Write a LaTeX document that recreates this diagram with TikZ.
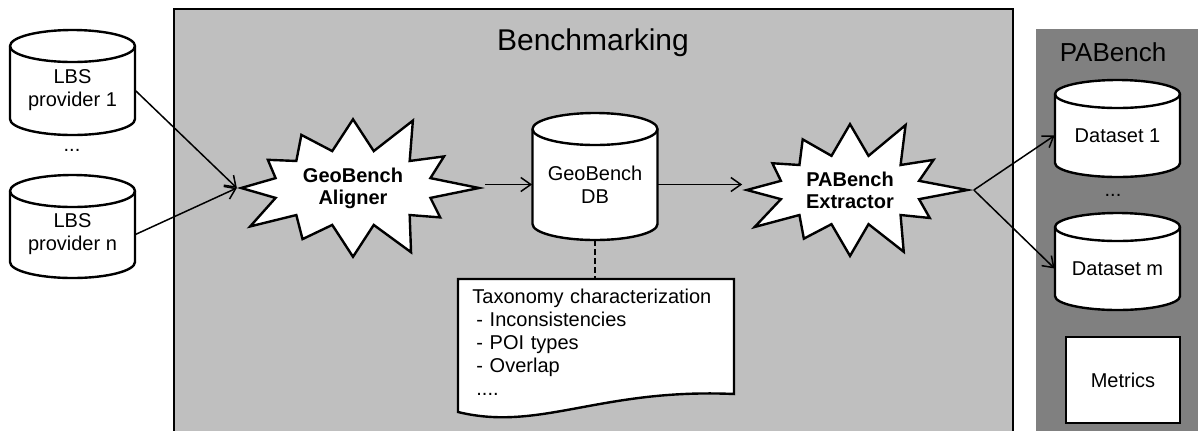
\documentclass[tikz,border=0pt]{standalone}
\usepackage{fontspec}
\setmainfont{Liberation Sans}
\usetikzlibrary{shapes.symbols,arrows.meta}

\tikzset{
  cylline/.style={draw, fill=white, line width=1.2pt},
  cyltext/.style={minimum width=62.5pt, inner sep=0pt, align=center,
    font=\fontsize{10}{11.5}\selectfont},
  burst/.style={starburst, draw, fill=white, line width=1.2pt,
    starburst points=12, random starburst=2, starburst point height=28pt,
    minimum height=58pt, align=center, font=\fontsize{10}{11}\selectfont\bfseries},
  flow/.style={-{Straight Barb[length=5pt,width=7pt]}, line width=0.75pt},
  doctext/.style={align=left, text width=124pt, inner xsep=7pt, inner ysep=5pt,
    font=\fontsize{10}{11.5}\selectfont},
}

% database cylinder: name, centre x, top y, bottom y, ellipse radius, text
\newcommand\cylnode[6]{%
  \draw[cylline] (#2-62.5,#3+#5) -- (#2-62.5,#4-#5)
    arc[start angle=180, end angle=0, x radius=62.5, y radius=#5]
    -- (#2+62.5,#3+#5)
    arc[start angle=0, end angle=-180, x radius=62.5, y radius=#5] -- cycle;
  \draw[cylline, fill=none] (#2-62.5,#3+#5)
    arc[start angle=180, end angle=0, x radius=62.5, y radius=#5];
  \node[cyltext, minimum height={(#4-#3-#5)*0.5pt}] (#1) at (#2,{(#3+#5+#4)/2}) {#6};
}

\begin{document}
\begin{tikzpicture}[x=0.5pt,y=-0.5pt]
\useasboundingbox (0,0) rectangle (1198,430);

% Benchmarking panel
\draw[fill=black!25, line width=1.2pt] (174,440) -- (174,9) -- (1013,9) -- (1013,440);
\node[font=\fontsize{15}{18}\selectfont] (bench) at (593,43) {Benchmarking};

% PABench panel
\fill[black!50] (1036,29) rectangle (1198,440);
\node[font=\fontsize{13}{16}\selectfont] (pabench) at (1113,52) {PABench};

% Data sources
\cylnode{lbs1}{72.5}{30}{135}{16}{LBS\\provider 1}
\node[font=\fontsize{10}{12}\selectfont] (dots1) at (72,150) {...};
\cylnode{lbsn}{72.5}{175}{278}{16}{LBS\\provider n}

% Processing steps
\node[burst, minimum width=130pt] (aligner) at (353,188) {GeoBench\\Aligner};
\cylnode{geodb}{595}{113}{240}{16}{GeoBench\\DB}
\node[burst, minimum width=124pt] (extractor) at (850,190) {PABench\\Extractor};

% Taxonomy document
\draw[fill=white, line width=1.2pt] (458,279) -- (734,279) -- (734,394)
  .. controls (600,388) and (540,432) .. (458,412) -- cycle;
\node[doctext, anchor=north west] (taxo) at (458,279)
  {Taxonomy characterization\\
   \hspace{2pt}- Inconsistencies\\
   \hspace{2pt}- POI types\\
   \hspace{2pt}- Overlap\\
   \hspace{2pt}....};

% Outputs
\cylnode{set1}{1117.5}{80}{177}{14}{Dataset 1}
\node[font=\fontsize{10}{12}\selectfont] (dots2) at (1113,195) {...};
\cylnode{setm}{1117.5}{213}{310}{14}{Dataset m}
\node[draw, fill=white, line width=1.2pt, minimum width=57pt, minimum height=43pt,
  font=\fontsize{10}{12}\selectfont] (metrics) at (1123,380) {Metrics};

% Connectors
\draw[flow] (lbs1.east) -- (aligner.west);
\draw[flow] (lbsn.east) -- (aligner.west);
\draw[flow] (geodb.west -| aligner.east) -- (geodb.west);
\draw[flow] (geodb.east) -- (geodb.east -| extractor.west);
\draw[flow] (extractor.east) -- (set1.west);
\draw[flow] (extractor.east) -- (setm.west);
\draw[dashed, dash pattern=on 3pt off 1.5pt, line width=1pt] (geodb.south) -- (geodb.south |- taxo.north);

\end{tikzpicture}
\end{document}
